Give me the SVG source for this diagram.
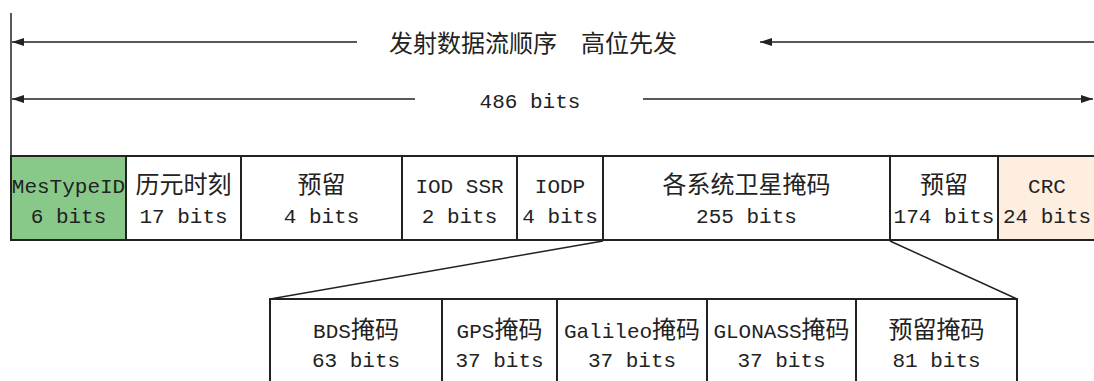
<svg xmlns="http://www.w3.org/2000/svg" width="1094" height="381" viewBox="0 0 1094 381">
<style>
.t{font-family:"Liberation Mono","Noto Sans CJK SC",monospace;font-size:21px;fill:#222;text-anchor:middle}
.c{font-family:"Noto Sans CJK SC",sans-serif;font-size:24px}
.b{fill:none;stroke:#222;stroke-width:2}
.l{stroke:#222;stroke-width:1.5;fill:none}
</style>
<defs>
<marker id="a" viewBox="0 0 12 8" refX="12" refY="4" markerWidth="12" markerHeight="8" markerUnits="userSpaceOnUse" orient="auto"><path d="M0,0 L12,4 L0,8 z" fill="#222"/></marker>
</defs>
<g id="connectors">
<line class="l" x1="11" y1="13" x2="11" y2="156"/>
<line class="l" x1="357" y1="42" x2="12" y2="42" marker-end="url(#a)"/>
<line class="l" x1="1094" y1="42" x2="760" y2="42" marker-end="url(#a)"/>
<line class="l" x1="415" y1="99" x2="12" y2="99" marker-end="url(#a)"/>
<line class="l" x1="643" y1="99" x2="1093" y2="99" marker-end="url(#a)"/>
<line class="l" x1="603" y1="241" x2="270" y2="299"/>
<line class="l" x1="890" y1="241" x2="1017" y2="299"/>
</g>
<g id="labels">
<text class="t" x="533" y="52"><tspan class="c">发射数据流顺序　高位先发</tspan></text>
<text class="t" x="530" y="108">486 bits</text>
</g>
<g id="n-mestype"><rect x="11" y="156" width="115" height="84" fill="#88c98a" stroke="#222" stroke-width="2"/><text class="t" x="68.5" y="193">MesTypeID</text><text class="t" x="68.5" y="223">6 bits</text></g>
<g id="n-epoch"><rect class="b" x="126" y="156" width="115" height="84"/><text class="t" x="183.5" y="193"><tspan class="c">历元时刻</tspan></text><text class="t" x="183.5" y="223">17 bits</text></g>
<g id="n-res1"><rect class="b" x="241" y="156" width="161" height="84"/><text class="t" x="321.5" y="193"><tspan class="c">预留</tspan></text><text class="t" x="321.5" y="223">4 bits</text></g>
<g id="n-iodssr"><rect class="b" x="402" y="156" width="115" height="84"/><text class="t" x="459.5" y="193">IOD SSR</text><text class="t" x="459.5" y="223">2 bits</text></g>
<g id="n-iodp"><rect class="b" x="517" y="156" width="86" height="84"/><text class="t" x="560" y="193">IODP</text><text class="t" x="560" y="223">4 bits</text></g>
<g id="n-mask"><rect class="b" x="603" y="156" width="287" height="84"/><text class="t" x="746.5" y="193"><tspan class="c">各系统卫星掩码</tspan></text><text class="t" x="746.5" y="223">255 bits</text></g>
<g id="n-res2"><rect class="b" x="890" y="156" width="108" height="84"/><text class="t" x="944" y="193"><tspan class="c">预留</tspan></text><text class="t" x="944" y="223">174 bits</text></g>
<g id="n-crc"><rect x="998" y="156" width="100" height="84" fill="#fdeee0" stroke="#222" stroke-width="2"/><text class="t" x="1047" y="193">CRC</text><text class="t" x="1047" y="223">24 bits</text></g>
<g id="n-bds"><rect class="b" x="270" y="299" width="172" height="90"/><text class="t" x="356" y="338">BDS<tspan class="c">掩码</tspan></text><text class="t" x="356" y="367">63 bits</text></g>
<g id="n-gps"><rect class="b" x="442" y="299" width="115" height="90"/><text class="t" x="499.5" y="338">GPS<tspan class="c">掩码</tspan></text><text class="t" x="499.5" y="367">37 bits</text></g>
<g id="n-gal"><rect class="b" x="557" y="299" width="150" height="90"/><text class="t" x="632" y="338">Galileo<tspan class="c">掩码</tspan></text><text class="t" x="632" y="367">37 bits</text></g>
<g id="n-glo"><rect class="b" x="707" y="299" width="149" height="90"/><text class="t" x="781.5" y="338">GLONASS<tspan class="c">掩码</tspan></text><text class="t" x="781.5" y="367">37 bits</text></g>
<g id="n-resmask"><rect class="b" x="856" y="299" width="161" height="90"/><text class="t" x="936.5" y="338"><tspan class="c">预留掩码</tspan></text><text class="t" x="936.5" y="367">81 bits</text></g>
</svg>
